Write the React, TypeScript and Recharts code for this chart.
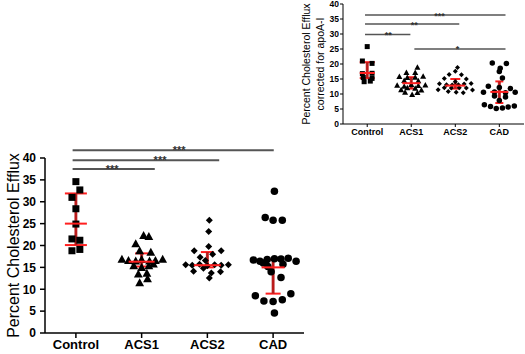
import React from "react"
import {
  ScatterChart,
  Scatter,
  XAxis,
  YAxis,
  ErrorBar,
  ReferenceLine,
  ReferenceDot,
  Label,
} from "recharts"

const groups = ["Control", "ACS1", "ACS2", "CAD"]
const yTicks = [0, 5, 10, 15, 20, 25, 30, 35, 40]

// main panel: percent cholesterol efflux (x jitter in category units)
const effluxControl = [34.6, 32.7, 31.0, 28.4, 24.9, 21.5, 21.2, 18.8, 19.1]
const effluxControlJitter = [0, 0.06, -0.06, 0, 0, -0.06, 0.06, -0.06, 0.06]
const effluxAcs1 = [22.3, 22.1, 20.4, 18.8, 18.5, 16.9, 16.6, 16.5, 16.8, 16.5, 16.6, 16.9, 15.4, 15.0, 15.4, 15.8, 13.5, 13.7, 12.4, 11.5]
const effluxAcs1Jitter = [0.03, 0.11, -0.09, -0.03, 0.14, -0.3, -0.2, -0.09, 0, 0.12, 0.21, 0.32, -0.12, 0, 0.11, 0.18, -0.05, 0.08, 0.09, -0.03]
const effluxAcs2 = [25.8, 23.2, 19.8, 18.8, 18.8, 18.0, 17.3, 16.6, 15.6, 15.5, 15.7, 15.4, 15.6, 15.5, 15.6, 14.8, 14.1, 14.0, 13.7, 12.6]
const effluxAcs2Jitter = [0.03, 0.02, 0.02, -0.2, 0.21, 0.08, -0.11, -0.03, -0.33, -0.23, -0.12, 0, 0.11, 0.21, 0.32, -0.06, -0.21, 0.2, 0.06, 0.03]
const effluxCad = [32.4, 26.4, 25.8, 25.8, 16.7, 16.4, 16.8, 17.0, 16.9, 17.1, 16.4, 16.0, 15.7, 14.0, 12.7, 8.5, 7.3, 7.2, 7.6, 9.0, 4.6, 15.2]
const effluxCadJitter = [0.02, -0.12, 0, 0.14, -0.3, -0.2, -0.09, 0.02, 0.12, 0.23, 0.35, -0.15, 0.15, -0.03, 0.12, -0.27, -0.14, 0, 0.14, 0.27, 0.02, -0.08]
// [median, lower, upper]
const effluxSummary = [
  [25.0, 20.1, 31.9],
  [16.3, 15.2, 18.2],
  [15.5, 15.0, 18.5],
  [15.0, 9.0, 16.8],
]
// [from, to, y, stars, star x]
const effluxSig: [number, number, number, string, number][] = [
  [-0.05, 3.01, 41.8, "***", 1.57],
  [-0.05, 2.18, 39.5, "***", 1.28],
  [-0.05, 1.2, 37.5, "***", 0.55],
]

// inset: efflux corrected for apoA-I
const apoControl = [25.8, 21.0, 20.2, 16.8, 16.9, 15.5, 14.1, 14.3, 15.2]
const apoControlJitter = [0, -0.11, 0.11, -0.11, 0.11, -0.09, -0.07, 0.07, 0.11]
const apoAcs1 = [18.9, 17.2, 17.2, 15.8, 15.5, 15.6, 15.9, 14.5, 14.4, 13.2, 12.9, 12.6, 12.8, 13.0, 12.1, 11.9, 11.4, 11.3, 10.6, 10.5, 9.8]
const apoAcs1Jitter = [0.14, -0.11, 0.09, -0.27, -0.09, 0.09, 0.27, -0.16, 0.16, 0, -0.32, -0.16, 0.16, 0.32, -0.09, 0.09, -0.23, 0.23, -0.14, 0.14, 0.02]
const apoAcs2 = [18.8, 17.6, 16.5, 16.4, 15.2, 15.0, 14.1, 13.4, 13.1, 13.0, 13.1, 13.3, 13.5, 12.1, 12.0, 12.1, 12.0, 11.4, 11.3, 10.8, 10.6, 10.4]
const apoAcs2Jitter = [0.05, 0, -0.14, 0.14, -0.25, 0.25, 0, -0.36, -0.2, -0.07, 0.07, 0.2, 0.36, -0.25, -0.09, 0.09, 0.25, -0.39, 0.39, -0.16, 0.02, 0.18]
const apoCad = [20.3, 20.2, 18.6, 17.5, 15.3, 12.6, 12.2, 11.8, 10.6, 10.7, 10.4, 10.6, 9.3, 9.0, 7.8, 6.4, 5.8, 5.2, 5.3, 5.7, 6.0]
const apoCadJitter = [-0.16, 0.16, 0.02, 0, 0.07, -0.25, 0, 0.25, -0.36, -0.11, 0.14, 0.36, -0.11, 0.14, 0, -0.34, -0.2, -0.07, 0.07, 0.2, 0.34]
const apoSummary = [
  [17.0, 15.3, 20.6],
  [13.6, 11.8, 15.6],
  [12.8, 11.8, 15.0],
  [10.7, 7.0, 14.2],
]
const apoSig: [number, number, number, string, number][] = [
  [-0.05, 3.14, 36.3, "***", 1.64],
  [-0.05, 2.09, 33.3, "**", 1.07],
  [-0.05, 0.98, 29.8, "**", 0.48],
  [1.07, 3.14, 25.0, "*", 2.05],
]

const FONT = "'Liberation Sans', Arial, sans-serif"
const kinds = ["square", "triangle", "diamond", "circle"]

const marker = (kind: string, s: number) => (p: any) => {
  const { cx, cy } = p
  if (kind === "square")
    return <rect x={cx - s / 2} y={cy - s / 2} width={s} height={s} fill="#000" />
  if (kind === "triangle")
    return (
      <polygon
        points={`${cx},${cy - s * 0.55} ${cx - s * 0.55},${cy + s * 0.45} ${cx + s * 0.55},${cy + s * 0.45}`}
        fill="#000"
      />
    )
  if (kind === "diamond")
    return (
      <polygon
        points={`${cx},${cy - s / 2} ${cx + s / 2},${cy} ${cx},${cy + s / 2} ${cx - s / 2},${cy}`}
        fill="#000"
      />
    )
  return <circle cx={cx} cy={cy} r={s / 2} fill="#000" />
}

const medianBar = (w: number) => (p: any) => (
  <line x1={p.cx - w / 2} x2={p.cx + w / 2} y1={p.cy} y2={p.cy} stroke="#ff1f1f" strokeWidth={2} />
)

// asterisks sit right on top of their bracket line
const starLabel = (stars: string, size: number) => (p: any) => {
  const vb = p.viewBox || {}
  const x = vb.x + (vb.width || 0) / 2
  const y = vb.y + (vb.height || 0) / 2
  return (
    <text x={x} y={y + size * 0.38} textAnchor="middle" fontSize={size} fontWeight={700} fill="#333" fontFamily={FONT}>
      {stars}
    </text>
  )
}

function Panel({ cfg, series, summary, sig }: any) {
  return (
    <ScatterChart width={cfg.width} height={cfg.height} margin={cfg.margin}>
      <XAxis
        type="number"
        dataKey="x"
        domain={cfg.xDomain}
        ticks={[0, 1, 2, 3]}
        interval={0}
        allowDataOverflow
        tickFormatter={(v: number) => groups[v]}
        height={cfg.xAxisHeight}
        axisLine={{ stroke: "#000", strokeWidth: cfg.axisW }}
        tickLine={{ stroke: "#000", strokeWidth: cfg.axisW }}
        tickSize={cfg.tickSize}
        tick={{ fontSize: cfg.xFont, fontWeight: 700, fill: "#000", fontFamily: FONT }}
      />
      <YAxis
        type="number"
        dataKey="y"
        domain={[0, 40]}
        ticks={yTicks}
        interval={0}
        allowDataOverflow
        width={cfg.yAxisWidth}
        axisLine={{ stroke: "#000", strokeWidth: cfg.axisW }}
        tickLine={{ stroke: "#000", strokeWidth: cfg.axisW }}
        tickSize={cfg.tickSize}
        tickMargin={cfg.tickMargin}
        tick={{ fontSize: cfg.yFont, fontWeight: 700, fill: "#000", fontFamily: FONT }}
      >
        {cfg.yLabels.map((t: string, i: number) => (
          <Label
            key={t}
            value={t}
            angle={-90}
            position="insideLeft"
            offset={cfg.yLabelOffsets[i]}
            style={{ textAnchor: "middle", fontSize: cfg.yLabelFont, fontFamily: FONT, fill: "#000" }}
          />
        ))}
      </YAxis>

      {sig.map(([a, b, y]: any, i: number) => (
        <ReferenceLine
          key={"l" + i}
          segment={[{ x: a, y }, { x: b, y }]}
          stroke="#555"
          strokeWidth={cfg.sigW}
          ifOverflow="visible"
        />
      ))}
      {sig.map(([, , y, stars, at]: any, i: number) => (
        <ReferenceDot
          key={"s" + i}
          x={at}
          y={y}
          r={0.5}
          fill="none"
          stroke="none"
          ifOverflow="visible"
          label={starLabel(stars, cfg.starFont)}
        />
      ))}

      {series.map((s: any, g: number) => (
        <Scatter
          key={groups[g]}
          data={s.values.map((v: number, i: number) => ({ x: g + s.jitter[i], y: v }))}
          shape={marker(kinds[g], cfg.markers[g])}
          isAnimationActive={false}
        />
      ))}

      {summary.map(([m, lo, hi]: number[], g: number) => (
        <Scatter
          key={"sum" + g}
          data={[{ x: g, y: m, err: [m - lo, hi - m] }]}
          shape={medianBar(cfg.medianW[g])}
          isAnimationActive={false}
        >
          <ErrorBar dataKey="err" direction="y" width={cfg.capW[g] / 2} stroke="#ff1f1f" strokeWidth={2} isAnimationActive={false} />
          <ErrorBar dataKey="err" direction="y" width={0} stroke="rgba(170,25,25,0.8)" strokeWidth={3} isAnimationActive={false} />
        </Scatter>
      ))}
    </ScatterChart>
  )
}

const mainCfg = {
  width: 310,
  height: 354,
  margin: { top: 158, right: 6, bottom: 0, left: 0 },
  xDomain: [-0.47, 3.47],
  xAxisHeight: 21,
  yAxisWidth: 45,
  axisW: 1.5,
  tickSize: 5,
  tickMargin: 4,
  xFont: 13,
  yFont: 12,
  yLabels: ["Percent Cholesterol Efflux"],
  yLabelOffsets: [13],
  yLabelFont: 16,
  sigW: 2,
  starFont: 11,
  markers: [7, 8, 7, 7.5],
  medianW: [22, 26, 27, 23],
  capW: [22, 13, 13, 15],
}

const insetCfg = {
  width: 230,
  height: 140,
  margin: { top: 4, right: 1, bottom: 0, left: 0 },
  xDomain: [-0.55, 3.56],
  xAxisHeight: 16,
  yAxisWidth: 48,
  axisW: 1,
  tickSize: 3,
  tickMargin: 1,
  xFont: 9,
  yFont: 8.5,
  yLabels: ["Percent Cholesterol Efflux", "corrected for apoA-I"],
  yLabelOffsets: [11, 25],
  yLabelFont: 10.5,
  sigW: 1.5,
  starFont: 9,
  markers: [5, 5.5, 5, 5.5],
  medianW: [15, 18, 20, 18],
  capW: [15, 8, 10, 8],
}

export default function App() {
  const mainSeries = [
    { values: effluxControl, jitter: effluxControlJitter },
    { values: effluxAcs1, jitter: effluxAcs1Jitter },
    { values: effluxAcs2, jitter: effluxAcs2Jitter },
    { values: effluxCad, jitter: effluxCadJitter },
  ]
  const insetSeries = [
    { values: apoControl, jitter: apoControlJitter },
    { values: apoAcs1, jitter: apoAcs1Jitter },
    { values: apoAcs2, jitter: apoAcs2Jitter },
    { values: apoCad, jitter: apoCadJitter },
  ]
  return (
    <div style={{ position: "absolute", left: 0, top: 0, width: 525, height: 354, background: "#fff", overflow: "hidden" }}>
      <div style={{ position: "absolute", left: 0, top: 0 }}>
        <Panel cfg={mainCfg} series={mainSeries} summary={effluxSummary} sig={effluxSig} />
      </div>
      <div style={{ position: "absolute", left: 295, top: 0 }}>
        <Panel cfg={insetCfg} series={insetSeries} summary={apoSummary} sig={apoSig} />
      </div>
    </div>
  )
}
